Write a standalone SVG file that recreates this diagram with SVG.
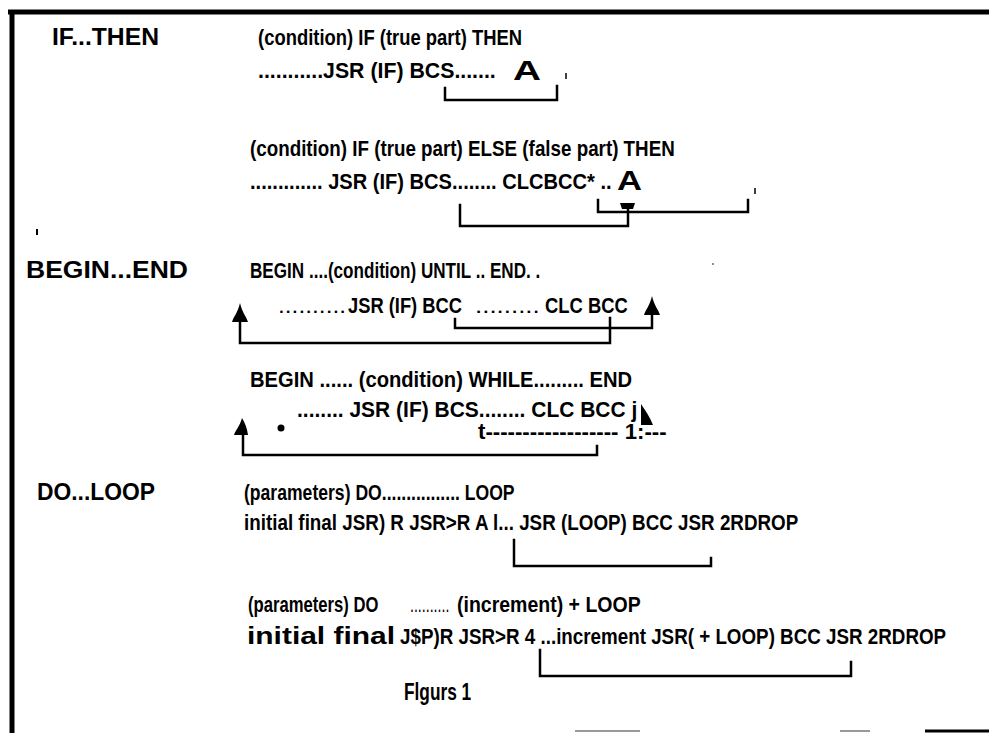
<svg xmlns="http://www.w3.org/2000/svg" width="989" height="733" viewBox="0 0 989 733">
<style>
.t{font-family:"Liberation Sans",Arial,sans-serif;font-weight:bold;font-size:22px;fill:#000}
.d{font-family:"Liberation Sans",Arial,sans-serif;font-weight:normal;font-size:22px;fill:#000}
.h{font-family:"Liberation Sans",Arial,sans-serif;font-weight:bold;font-size:23px;fill:#000}
.big{font-family:"Liberation Sans",Arial,sans-serif;font-weight:bold;font-size:28px;fill:#000}
.ln{fill:none;stroke:#000;stroke-width:2.5;stroke-linecap:square}
.ah{fill:#000}
</style>
<rect width="989" height="733" fill="#fff"/>
<g id="frame">
<line x1="8" y1="12" x2="989" y2="12" stroke="#000" stroke-width="5"/>
<line x1="12" y1="10" x2="12" y2="733" stroke="#000" stroke-width="5"/>
<line x1="575" y1="731" x2="640" y2="731" stroke="#999" stroke-width="2"/>
<line x1="840" y1="731" x2="870" y2="731" stroke="#999" stroke-width="2"/>
<line x1="925" y1="731" x2="989" y2="731" stroke="#000" stroke-width="3"/>
</g>
<g id="labels">
<text class="h" x="52" y="45" textLength="107" lengthAdjust="spacingAndGlyphs">IF...THEN</text>
<text class="h" x="26" y="278" textLength="162" lengthAdjust="spacingAndGlyphs">BEGIN...END</text>
<text class="h" x="37" y="500" textLength="118" lengthAdjust="spacingAndGlyphs">DO...LOOP</text>
</g>
<g id="if-then">
<text class="t" transform="translate(258,45) scale(0.82,1)" textLength="322" lengthAdjust="spacingAndGlyphs">(condition) IF (true part) THEN</text>
<text class="t" transform="translate(258,78) scale(0.82,1)" textLength="290" lengthAdjust="spacingAndGlyphs">...........JSR (IF) BCS.......</text>
<text class="big" x="513" y="80" textLength="28" lengthAdjust="spacingAndGlyphs">A</text>
</g>
<g id="if-else">
<text class="t" transform="translate(250,156) scale(0.82,1)" textLength="518" lengthAdjust="spacingAndGlyphs">(condition) IF (true part) ELSE (false part) THEN</text>
<text class="t" transform="translate(250,189) scale(0.82,1)" textLength="441" lengthAdjust="spacingAndGlyphs">............. JSR (IF) BCS........ CLCBCC* ..</text>
<text class="big" x="617" y="190" textLength="25" lengthAdjust="spacingAndGlyphs">A</text>
</g>
<g id="begin-until">
<text class="t" transform="translate(250,278) scale(0.82,1)" textLength="354" lengthAdjust="spacingAndGlyphs">BEGIN ....(condition) UNTIL .. END. .</text>
<text class="d" transform="translate(278,313) scale(0.82,1)" textLength="83" lengthAdjust="spacingAndGlyphs">..........</text>
<text class="t" transform="translate(348,313) scale(0.82,1)" textLength="139" lengthAdjust="spacingAndGlyphs">JSR (IF) BCC</text>
<text class="d" transform="translate(475,313) scale(0.82,1)" textLength="79" lengthAdjust="spacingAndGlyphs">.........</text>
<text class="t" transform="translate(545,313) scale(0.82,1)" textLength="101" lengthAdjust="spacingAndGlyphs">CLC BCC</text>
</g>
<g id="begin-while">
<text class="t" transform="translate(250,387) scale(0.82,1)" textLength="466" lengthAdjust="spacingAndGlyphs">BEGIN ...... (condition) WHILE......... END</text>
<text class="t" transform="translate(297,417) scale(0.82,1)" textLength="415" lengthAdjust="spacingAndGlyphs">........ JSR (IF) BCS........ CLC BCC j</text>
<text class="t" transform="translate(478,439) scale(0.82,1)" font-size="17" textLength="230" lengthAdjust="spacingAndGlyphs">t------------------ 1:---</text>
<circle cx="281" cy="428" r="3.5" fill="#000"/>
</g>
<g id="do-loop">
<text class="t" transform="translate(244,500) scale(0.82,1)" textLength="330" lengthAdjust="spacingAndGlyphs">(parameters) DO................ LOOP</text>
<text class="t" transform="translate(244,530) scale(0.82,1)" textLength="676" lengthAdjust="spacingAndGlyphs">initial final JSR) R JSR&gt;R A l... JSR (LOOP) BCC JSR 2RDROP</text>
</g>
<g id="do-plusloop">
<text class="t" transform="translate(248,612) scale(0.82,1)" textLength="159" lengthAdjust="spacingAndGlyphs">(parameters) DO</text>
<text class="d" transform="translate(410,612) scale(0.82,1)" font-size="17" textLength="48" lengthAdjust="spacingAndGlyphs">..........</text>
<text class="t" transform="translate(457,612) scale(0.82,1)" textLength="224" lengthAdjust="spacingAndGlyphs">(increment) + LOOP</text>
<text class="h" x="247" y="644" font-size="27" textLength="148" lengthAdjust="spacingAndGlyphs">initial final</text>
<text class="t" transform="translate(400,644) scale(0.82,1)" textLength="666" lengthAdjust="spacingAndGlyphs">J$P)R JSR&gt;R 4 ...increment JSR( + LOOP) BCC JSR 2RDROP</text>
</g>
<g id="caption">
<text class="h" transform="translate(404,700) scale(0.85,1)" font-size="22" textLength="79" lengthAdjust="spacingAndGlyphs">Flgurs 1</text>
</g>
<g id="connectors">
<path class="ln" d="M445,88 V100 H557 V86"/>
<path class="ln" d="M460,205 V226 H628 V208"/>
<path class="ln" d="M598,200 V212 H748 V200"/>
<path class="ah" d="M620,203 H635 L633,209 H622 Z"/>
<path class="ln" d="M240,320 V343 H610 V318"/>
<path class="ah" d="M240,303 C238,312 233,318 232,322 H248 C247,318 242,312 240,303 Z"/>
<path class="ln" d="M455,319 V328 H652 V314"/>
<path class="ah" d="M652,296 C650,305 645,311 644,315 H660 C659,311 654,305 652,296 Z"/>
<path class="ln" d="M243,434 V455 H597 V446"/>
<path class="ah" d="M242,418 C240,426 235,431 234,435 H248 C247,428 245,423 242,418 Z"/>
<path class="ah" d="M641,404 C645,410 650,417 653,425 H641 Z"/>
<path class="ln" d="M514,540 V566 H711 V558"/>
<path class="ln" d="M540,650 V676 H851 V662"/>
</g>
<g id="marks">
<line x1="566" y1="73" x2="566" y2="79" stroke="#000" stroke-width="1.5"/>
<line x1="755" y1="188" x2="755" y2="194" stroke="#000" stroke-width="1.5"/>
<line x1="37" y1="229" x2="37" y2="235" stroke="#000" stroke-width="2"/>
<circle cx="713" cy="264" r="0.8" fill="#000"/>
</g>
</svg>
